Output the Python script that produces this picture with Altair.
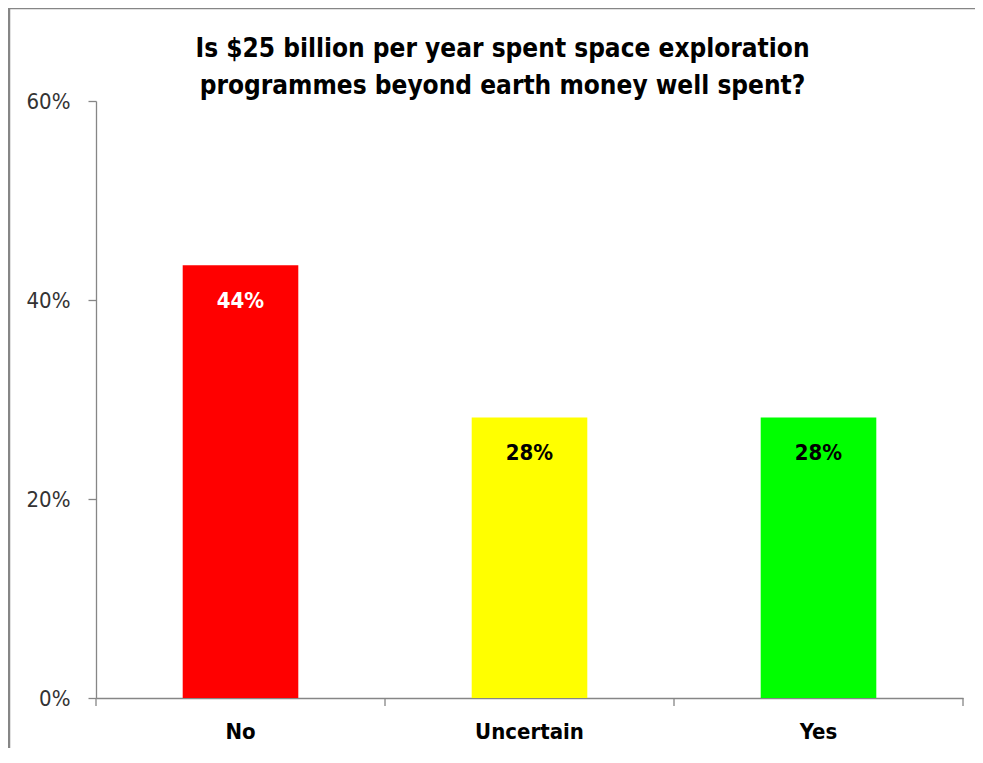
import altair as alt
import pandas as pd

categories = ["No", "Uncertain", "Yes"]
values = [0.435, 0.282, 0.282]
labels = ["44%", "28%", "28%"]
bar_colors = ["#FF0000", "#FFFF00", "#00FF00"]
label_colors = ["#FFFFFF", "#000000", "#000000"]

df = pd.DataFrame({"cat": categories, "val": values, "lab": labels,
                   "col": bar_colors, "tcol": label_colors})

W, H = 867, 597
AX = "#868686"
FONT = "DejaVu Sans Condensed, Liberation Sans, sans-serif"
STEP = W / 3.0
GAP = 0.3 * STEP  # half of inner padding between bars

xscale = alt.Scale(domain=categories, paddingInner=0.6, paddingOuter=0.3)

x_enc = alt.X("cat:N", sort=categories, title=None, scale=xscale,
              axis=alt.Axis(labelAngle=0, labelFont=FONT, labelFontSize=22,
                            labelFontWeight="bold", labelColor="#000000",
                            labelPadding=23, ticks=False,
                            domainColor=AX, domainWidth=1.3))
y_enc = alt.Y("val:Q", title=None,
              scale=alt.Scale(domain=[0, 0.6], nice=False),
              axis=alt.Axis(values=[0, 0.2, 0.4, 0.6], format=".0%",
                            labelFont=FONT, labelFontSize=22,
                            labelColor="#333333", labelPadding=18, tickSize=8,
                            tickColor=AX, domainColor=AX, domainWidth=1.3,
                            tickWidth=1.3, grid=False))

base = alt.Chart(df)

bars = base.mark_bar().encode(
    x=x_enc, y=y_enc,
    color=alt.Color("col:N", scale=None, legend=None),
)

texts = base.mark_text(dy=36, baseline="middle", font=FONT, fontSize=22,
                       fontWeight="bold").encode(
    x=alt.X("cat:N", sort=categories, scale=xscale),
    y="val:Q",
    text="lab:N",
    color=alt.Color("tcol:N", scale=None, legend=None),
)

# category-boundary tick marks on the x axis
ticks_left = base.mark_rule(color=AX, strokeWidth=1.3, xOffset=-GAP).encode(
    x=alt.X("cat:N", sort=categories, scale=xscale, bandPosition=0),
    y=alt.value(H), y2=alt.value(H + 8))
ticks_end = alt.Chart(df.tail(1)).mark_rule(color=AX, strokeWidth=1.3, xOffset=GAP).encode(
    x=alt.X("cat:N", sort=categories, scale=xscale, bandPosition=1),
    y=alt.value(H), y2=alt.value(H + 8))

border_top = alt.Chart(df.head(1)).mark_rule(color=AX, strokeWidth=2.5).encode(
    x=alt.value(-88), x2=alt.value(W + 30), y=alt.value(-93))
border_left = alt.Chart(df.head(1)).mark_rule(color=AX, strokeWidth=2.5).encode(
    x=alt.value(-87), y=alt.value(-94), y2=alt.value(H + 60))

chart = alt.layer(bars, texts, ticks_left, ticks_end, border_top, border_left).properties(
    width=W, height=H,
    title=alt.TitleParams(
        ["Is $25 billion per year spent space exploration",
         "programmes beyond earth money well spent?"],
        font=FONT, fontSize=26, fontWeight="bold", color="#000000",
        anchor="middle", frame="group", lineHeight=37, offset=-93, dx=-27),
    autosize=alt.AutoSizeParams(type="none"),
    padding={"left": 88, "top": 93, "right": 12, "bottom": 50},
).configure(background="#FFFFFF", view=alt.ViewConfig(stroke=None))

chart.save("out.html", embed_options={"renderer": "svg", "actions": False})
